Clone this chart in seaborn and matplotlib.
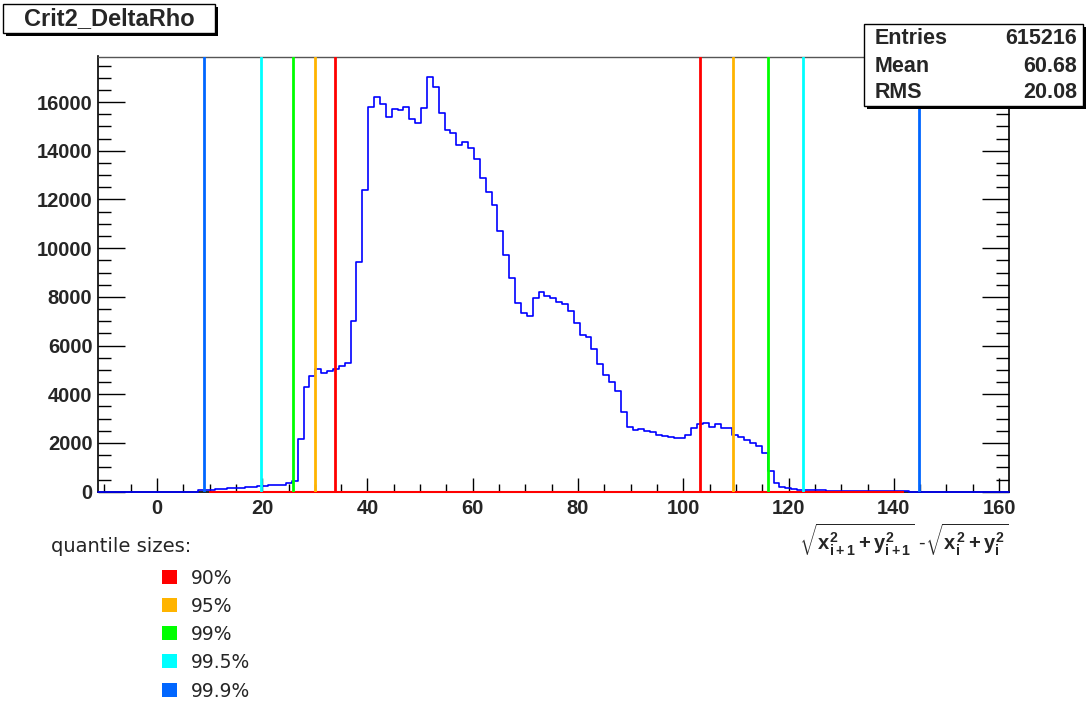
import numpy as np
import pandas as pd
import seaborn as sns
import matplotlib
matplotlib.use("Agg")
import matplotlib.pyplot as plt
from matplotlib.patches import Rectangle
from matplotlib.ticker import MultipleLocator

# ---- histogram definition -------------------------------------------------
x_min = -11.2
bin_width = 1.116
n_bins = 155
first_filled_bin = 17
counts_filled = [
    60, 75, 90, 105, 120, 135, 150, 165, 185, 205, 225, 245, 265, 275, 290, 345, 440,
    2160, 4310, 4760, 5030, 4860, 4960, 5030, 5170, 5290, 7020, 9440, 12380,
    15800, 16210, 15900, 15390, 15700, 15660, 15800, 15290, 15140, 15760, 17030, 16620,
    15550, 14870, 14730, 14250, 14360, 14110, 13650, 12900, 12310, 11790, 10710, 9710,
    8760, 7730, 7320, 7210, 7940, 8210, 8030, 7940, 7800, 7690, 7430, 6930, 6430, 6340,
    5880, 5240, 4790, 4510, 4150, 3280, 2650, 2530, 2570, 2500, 2450, 2320, 2280, 2250,
    2220, 2190, 2330, 2600, 2760, 2810, 2670, 2760, 2600, 2600, 2330, 2230, 2120, 1990,
    1890, 1580, 860, 345, 190, 140, 110, 80, 70, 60, 55, 50, 45, 40, 10, 40, 40, 40, 40,
    35, 35, 35, 30, 30, 30, 30,
]

# quantile boundaries (lower, upper) and their colours
quantile_labels = ["90%", "95%", "99%", "99.5%", "99.9%"]
quantile_low = [33.8, 30.0, 25.8, 19.7, 8.85]
quantile_high = [103.1, 109.5, 116.1, 122.8, 144.7]
quantile_colors = ["#ff0000", "#ffb400", "#00ff00", "#00ffff", "#0066ff"]

stats_names = ["Entries", "Mean", "RMS"]
stats_values = ["615216", "60.68", "20.08"]
title_text = "Crit2_DeltaRho"

# ---- build table ----------------------------------------------------------
counts = np.zeros(n_bins)
counts[first_filled_bin:first_filled_bin + len(counts_filled)] = counts_filled
edges = x_min + bin_width * np.arange(n_bins + 1)
centers = 0.5 * (edges[:-1] + edges[1:])
df = pd.DataFrame({"rho": centers, "n": counts})

sns.set_style("white")
plt.rcParams["font.family"] = ["Liberation Sans", "DejaVu Sans"]
plt.rcParams["mathtext.fontset"] = "custom"
plt.rcParams["mathtext.rm"] = "Liberation Sans:bold"
plt.rcParams["mathtext.it"] = "Liberation Sans:bold"
plt.rcParams["mathtext.bf"] = "Liberation Sans:bold"
plt.rcParams["mathtext.sf"] = "Liberation Sans:bold"

W, H = 1089, 702
fig = plt.figure(figsize=(W / 100, H / 100), dpi=100)
fig.patch.set_facecolor("white")


def fx(px):
    return px / W


def fy(py):
    return 1 - py / H


ax = fig.add_axes([fx(98), fy(491.7), fx(1008.5) - fx(98), fy(56.5) - fy(491.7)])

sns.histplot(data=df, x="rho", weights="n", bins=edges.tolist(), element="step",
             fill=False, color="#0000ff", linewidth=1.2, ax=ax, clip_on=False, zorder=3)

# red baseline over the populated range
ax.hlines(0, quantile_low[-1] + 1.0, 142.0, color="#ff0000", lw=1.5, zorder=4, clip_on=False)

for lo, hi, c in zip(quantile_low, quantile_high, quantile_colors):
    ax.axvline(lo, color=c, lw=2, zorder=5)
    ax.axvline(hi, color=c, lw=2, zorder=5)

ax.set_xlim(edges[0], edges[-1])
ax.set_ylim(0, 17870)
ax.set_xlabel("")
ax.set_ylabel("")
ax.set_xticks(np.arange(0, 161, 20))
ax.xaxis.set_minor_locator(MultipleLocator(5))
ax.yaxis.set_major_locator(MultipleLocator(2000))
ax.yaxis.set_minor_locator(MultipleLocator(500))
ax.xaxis.set_tick_params(which="major", direction="in", length=10, width=1, pad=5,
                         bottom=True, top=False, labelsize=14.5, color="black")
ax.xaxis.set_tick_params(which="minor", direction="in", length=5.5, width=1,
                         bottom=True, top=False, color="black")
ax.yaxis.set_tick_params(which="major", direction="in", length=19.5, width=1, pad=4,
                         left=True, right=True, labelsize=14.5, color="black")
ax.yaxis.set_tick_params(which="minor", direction="in", length=9.5, width=1,
                         left=True, right=True, color="black")
for lab in ax.get_xticklabels() + ax.get_yticklabels():
    lab.set_fontweight("bold")
for side in ["left", "bottom", "right"]:
    ax.spines[side].set_color("black")
    ax.spines[side].set_linewidth(1.2)
ax.spines["top"].set_color("#555555")
ax.spines["top"].set_linewidth(1.0)

fig.text(fx(1008), fy(540),
         r"$\sqrt{x_{i+1}^{2} + y_{i+1}^{2}}$ -$\sqrt{x_{i}^{2} + y_{i}^{2}}$",
         ha="right", va="center", fontsize=14.5)


# framed boxes with a drop shadow
def boxed(x0, y0, x1, y1, z=10):
    fig.add_artist(Rectangle((fx(x0 + 3), fy(y1 + 3)), fx(x1 - x0), fy(y0) - fy(y1),
                             transform=fig.transFigure, facecolor="black",
                             edgecolor="none", zorder=z))
    fig.add_artist(Rectangle((fx(x0), fy(y1)), fx(x1 - x0), fy(y0) - fy(y1),
                             transform=fig.transFigure, facecolor="white",
                             edgecolor="black", lw=1, zorder=z + 1))


boxed(3, 4, 215, 33)
fig.text(fx(109), fy(19), title_text, ha="center", va="center", fontsize=17,
         fontweight="bold", zorder=20)

boxed(864, 24, 1083, 106)
for i, (name, val) in enumerate(zip(stats_names, stats_values)):
    yy = 39 + 27 * i
    fig.text(fx(875), fy(yy), name, ha="left", va="center", fontsize=15.5,
             fontweight="bold", zorder=20)
    fig.text(fx(1077), fy(yy), val, ha="right", va="center", fontsize=15.5,
             fontweight="bold", zorder=20)

# quantile legend
fig.text(fx(51), fy(547), "quantile sizes:", ha="left", va="center", fontsize=14,
         family="DejaVu Sans")
for i, (lab, c) in enumerate(zip(quantile_labels, quantile_colors)):
    yc = 576.5 + 28.3 * i
    fig.add_artist(Rectangle((fx(161.5), fy(yc + 7)), fx(15), fy(yc - 7) - fy(yc + 7),
                             transform=fig.transFigure, facecolor=c, edgecolor="none"))
    fig.text(fx(191), fy(yc + 1.5), lab, ha="left", va="center", fontsize=13.5,
             family="DejaVu Sans")

fig.savefig("out.png", dpi=100, facecolor="white")
